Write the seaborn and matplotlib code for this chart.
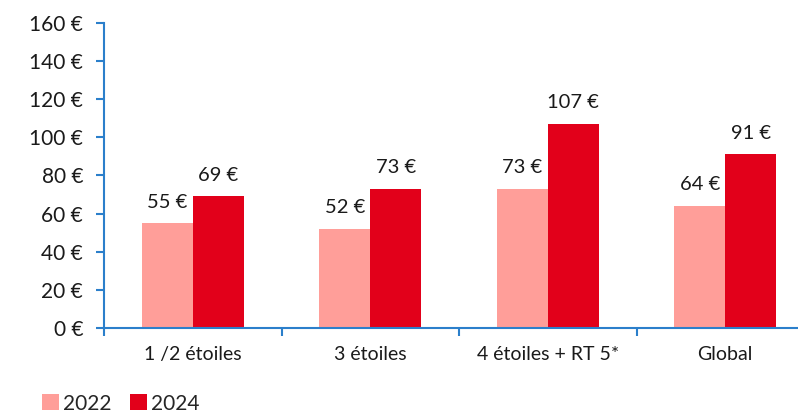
import matplotlib
matplotlib.use("Agg")
import matplotlib.pyplot as plt
from matplotlib.patches import Patch
import seaborn as sns
import pandas as pd

categories = ["1 /2 étoiles", "3 étoiles", "4 étoiles + RT 5*", "Global"]
values_2022 = [55, 52, 73, 64]
values_2024 = [69, 73, 107, 91]
years = ["2022", "2024"]
y_ticks = [0, 20, 40, 60, 80, 100, 120, 140, 160]

colors = {"2022": "#FF9E99", "2024": "#E2001A"}
axis_blue = "#2B7FCB"
text_color = "#1a1a1a"

df = pd.DataFrame({
    "cat": categories * 2,
    "year": ["2022"] * 4 + ["2024"] * 4,
    "val": values_2022 + values_2024,
})

sns.set_theme(style="white")
plt.rcParams["font.family"] = ["Lato", "DejaVu Sans"]

fig = plt.figure(figsize=(7.98, 4.17), dpi=100)
ax = fig.add_axes([104 / 798, 1 - 328 / 417, 710 / 798, (328 - 22.7) / 417])

sns.barplot(data=df, x="cat", y="val", hue="year", palette=colors,
            width=0.575, saturation=1, ax=ax, legend=False, gap=0)

for p in ax.patches:
    p.set_edgecolor("none")

# value labels above each bar
for container in ax.containers:
    ax.bar_label(container, labels=[f"{v:.0f} €" for v in container.datavalues],
                 padding=9, fontsize=14.5, color=text_color)

ax.set_xlim(-0.5, 3.5)
ax.set_ylim(0, 160)
ax.set_yticks(y_ticks)
ax.set_yticklabels([f"{t} €" for t in y_ticks], fontsize=15, color=text_color)

# category boundaries carry the tick marks; labels sit on minor ticks
ax.set_xticks([-0.5, 0.5, 1.5, 2.5, 3.5])
ax.set_xticklabels([])
ax.set_xticks(range(len(categories)), minor=True)
ax.set_xticklabels(categories, minor=True, fontsize=14, color=text_color)
ax.tick_params(axis="x", which="minor", length=0, pad=13)
ax.tick_params(axis="x", which="major", direction="out", length=6,
               width=1.5, color=axis_blue, bottom=True)
ax.tick_params(axis="y", direction="out", length=6, width=1.5,
               color=axis_blue, left=True, pad=9)

ax.set_xlabel("")
ax.set_ylabel("")
for side in ["top", "right"]:
    ax.spines[side].set_visible(False)
for side in ["left", "bottom"]:
    ax.spines[side].set_color(axis_blue)
    ax.spines[side].set_linewidth(1.5)

handles = [Patch(facecolor=colors[y], edgecolor="none") for y in years]
fig.legend(handles, years, loc="center left", bbox_to_anchor=(0.053, 0.032),
           frameon=False, fontsize=15, handlelength=0.8, handleheight=0.8,
           handletextpad=0.2, columnspacing=0.9, ncol=2, borderpad=0,
           borderaxespad=0)

fig.savefig("out.png", dpi=100)
